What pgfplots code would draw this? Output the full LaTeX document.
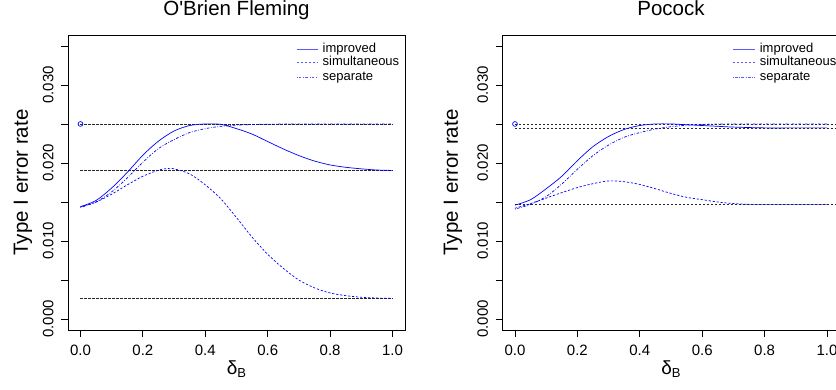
\documentclass[border=0pt]{standalone}
\usepackage{pgfplots}
\pgfplotsset{compat=1.18}
\usepackage{pgfplotstable}
\usepackage{fontspec}
\setmainfont{Liberation Sans}[Ligatures=TeXOff]

\pgfplotstableread{
x y
0.00 0.01440
0.05 0.01520
0.10 0.01680
0.15 0.01880
0.20 0.02100
0.25 0.02280
0.30 0.02410
0.35 0.02480
0.40 0.02500
0.45 0.02495
0.50 0.02440
0.55 0.02370
0.60 0.02275
0.65 0.02180
0.70 0.02095
0.75 0.02025
0.80 0.01975
0.85 0.01945
0.90 0.01925
0.95 0.01910
1.00 0.01905
}\LI
\pgfplotstableread{
x y
0.00 0.01440
0.05 0.01500
0.10 0.01600
0.15 0.01720
0.20 0.01830
0.25 0.01908
0.28 0.01930
0.30 0.01925
0.35 0.01860
0.40 0.01720
0.45 0.01540
0.50 0.01300
0.55 0.01050
0.60 0.00830
0.65 0.00650
0.70 0.00500
0.75 0.00400
0.80 0.00335
0.85 0.00300
0.90 0.00280
0.95 0.00270
1.00 0.00265
}\LS
\pgfplotstableread{
x y
0.00 0.01430
0.05 0.01500
0.10 0.01630
0.15 0.01810
0.20 0.02010
0.25 0.02185
0.30 0.02300
0.35 0.02390
0.40 0.02440
0.45 0.02470
0.50 0.02485
0.55 0.02493
0.60 0.02497
0.70 0.02500
0.80 0.02500
0.90 0.02500
1.00 0.02500
}\LP
\pgfplotstableread{
x y
0.00 0.01460
0.05 0.01530
0.10 0.01670
0.15 0.01830
0.20 0.02030
0.25 0.02210
0.30 0.02340
0.35 0.02430
0.40 0.02480
0.45 0.02500
0.50 0.02500
0.55 0.02490
0.60 0.02480
0.65 0.02470
0.70 0.02460
0.80 0.02450
0.90 0.02450
1.00 0.02450
}\RI
\pgfplotstableread{
x y
0.00 0.01420
0.05 0.01480
0.10 0.01550
0.15 0.01620
0.20 0.01685
0.25 0.01735
0.30 0.01770
0.35 0.01760
0.40 0.01725
0.45 0.01670
0.50 0.01610
0.55 0.01560
0.60 0.01530
0.65 0.01500
0.70 0.01480
0.75 0.01470
0.80 0.01470
1.00 0.01470
}\RS
\pgfplotstableread{
x y
0.00 0.01410
0.05 0.01470
0.10 0.01570
0.15 0.01730
0.20 0.01920
0.25 0.02095
0.30 0.02230
0.35 0.02330
0.40 0.02390
0.45 0.02435
0.50 0.02465
0.55 0.02485
0.60 0.02495
0.70 0.02500
1.00 0.02500
}\RP

\definecolor{legblue}{rgb}{0.35,0.35,1}
\tikzset{
  ldash/.style={dash pattern=on 2.2pt off 1.8pt},
  ldashdot/.style={dash pattern=on 0.7pt off 1.6pt on 2.6pt off 1.6pt},
  hline/.style={draw=black!85, line width=0.7pt, ldash},
  cimp/.style={draw=blue, line width=0.7pt},
  csim/.style={draw=blue, line width=0.7pt, ldash},
  csep/.style={draw=blue, line width=0.7pt, ldashdot},
  legtext/.style={anchor=base west, inner sep=0pt, font=\fontsize{13}{13}\selectfont},
}

\pgfplotsset{
  panel/.style={
    scale only axis, width=337pt, height=295pt,
    anchor=south west,
    xmin=-0.04, xmax=1.04, ymin=-0.0014, ymax=0.0364,
    axis line style={line width=0.8pt},
    tick align=outside, xtick pos=bottom, ytick pos=left,
    major tick length=7pt, tick style={black, line width=0.8pt},
    xtick={0,0.2,0.4,0.6,0.8,1},
    xticklabels={0.0,0.2,0.4,0.6,0.8,1.0},
    ytick={0,0.005,0.01,0.015,0.02,0.025,0.03,0.035},
    yticklabels={0.000,{},0.010,{},0.020,{},0.030,{}},
    scaled ticks=false,
    /pgf/number format/assume math mode=true,
    ticklabel style={font=\fontsize{15}{15}\selectfont, inner sep=0pt},
    xticklabel style={anchor=north, yshift=-8.3pt},
    yticklabel style={xshift=-7.7pt, rotate=90, anchor=base},
    title style={font=\fontsize{20.5}{20.5}\selectfont, at={(0.5,1)}, anchor=base, yshift=13.3pt},
    ylabel style={font=\fontsize{20.5}{20.5}\selectfont, anchor=base},
    xlabel style={at={(axis description cs:0.5,0)}, anchor=base, yshift=-44.3pt},
    xlabel={{\fontsize{19}{19}\selectfont δ}\raisebox{-3pt}{\fontsize{13}{13}\selectfont B}},
    ylabel={Type I error rate},
  },
}

\begin{document}
\begin{tikzpicture}
\begin{axis}[panel, at={(68pt,59pt)}, title={O'Brien Fleming},
  ylabel style={at={(axis description cs:-0.1193,0.5)}}]
  \addplot[hline, forget plot] coordinates {(0,0.025) (1,0.025)};
  \addplot[hline, forget plot] coordinates {(0,0.019) (1,0.019)};
  \addplot[hline, forget plot] coordinates {(0,0.0026) (1,0.0026)};
  \addplot[blue, only marks, mark=o, mark size=2.4pt, mark options={line width=0.7pt, solid}, forget plot] coordinates {(0,0.025)};
  \addplot[cimp, smooth] table[x=x,y=y] {\LI};
  \addplot[csim, smooth] table[x=x,y=y] {\LS};
  \addplot[csep, smooth] table[x=x,y=y] {\LP};
  % legend keys
  \addplot[draw=legblue, line width=0.9pt, forget plot] coordinates {(0.6923,0.03458) (0.7613,0.03458)};
  \addplot[draw=legblue, line width=0.8pt, ldash, forget plot] coordinates {(0.6923,0.03287) (0.7613,0.03287)};
  \addplot[draw=legblue, line width=0.8pt, ldashdot, forget plot] coordinates {(0.6923,0.03103) (0.7613,0.03103)};
  \node[legtext] at (axis cs:0.7754,0.03414) {improved};
  \node[legtext] at (axis cs:0.7754,0.03243) {simultaneous};
  \node[legtext] at (axis cs:0.7754,0.03059) {separate};
\end{axis}
\begin{axis}[panel, at={(502.5pt,59pt)}, title={Pocock},
  ylabel style={at={(axis description cs:-0.1326,0.5)}}]
  \addplot[hline, forget plot] coordinates {(0,0.025) (1.1,0.025)};
  \addplot[hline, forget plot] coordinates {(0,0.0245) (1.1,0.0245)};
  \addplot[hline, forget plot] coordinates {(0,0.0147) (1.1,0.0147)};
  \addplot[blue, only marks, mark=o, mark size=2.4pt, mark options={line width=0.7pt, solid}, forget plot] coordinates {(0,0.025)};
  \addplot[cimp, smooth] table[x=x,y=y] {\RI};
  \addplot[csim, smooth] table[x=x,y=y] {\RS};
  \addplot[csep, smooth] table[x=x,y=y] {\RP};
  % legend keys
  \addplot[draw=legblue, line width=0.9pt, forget plot] coordinates {(0.6974,0.03458) (0.7702,0.03458)};
  \addplot[draw=legblue, line width=0.8pt, ldash, forget plot] coordinates {(0.6974,0.03287) (0.7702,0.03287)};
  \addplot[draw=legblue, line width=0.8pt, ldashdot, forget plot] coordinates {(0.6974,0.03103) (0.7702,0.03103)};
  \node[legtext] at (axis cs:0.784,0.03414) {improved};
  \node[legtext] at (axis cs:0.784,0.03243) {simultaneous};
  \node[legtext] at (axis cs:0.784,0.03059) {separate};
\end{axis}
\pgfresetboundingbox
\path[use as bounding box] (0,0) rectangle (836pt,389pt);
\end{tikzpicture}
\end{document}
